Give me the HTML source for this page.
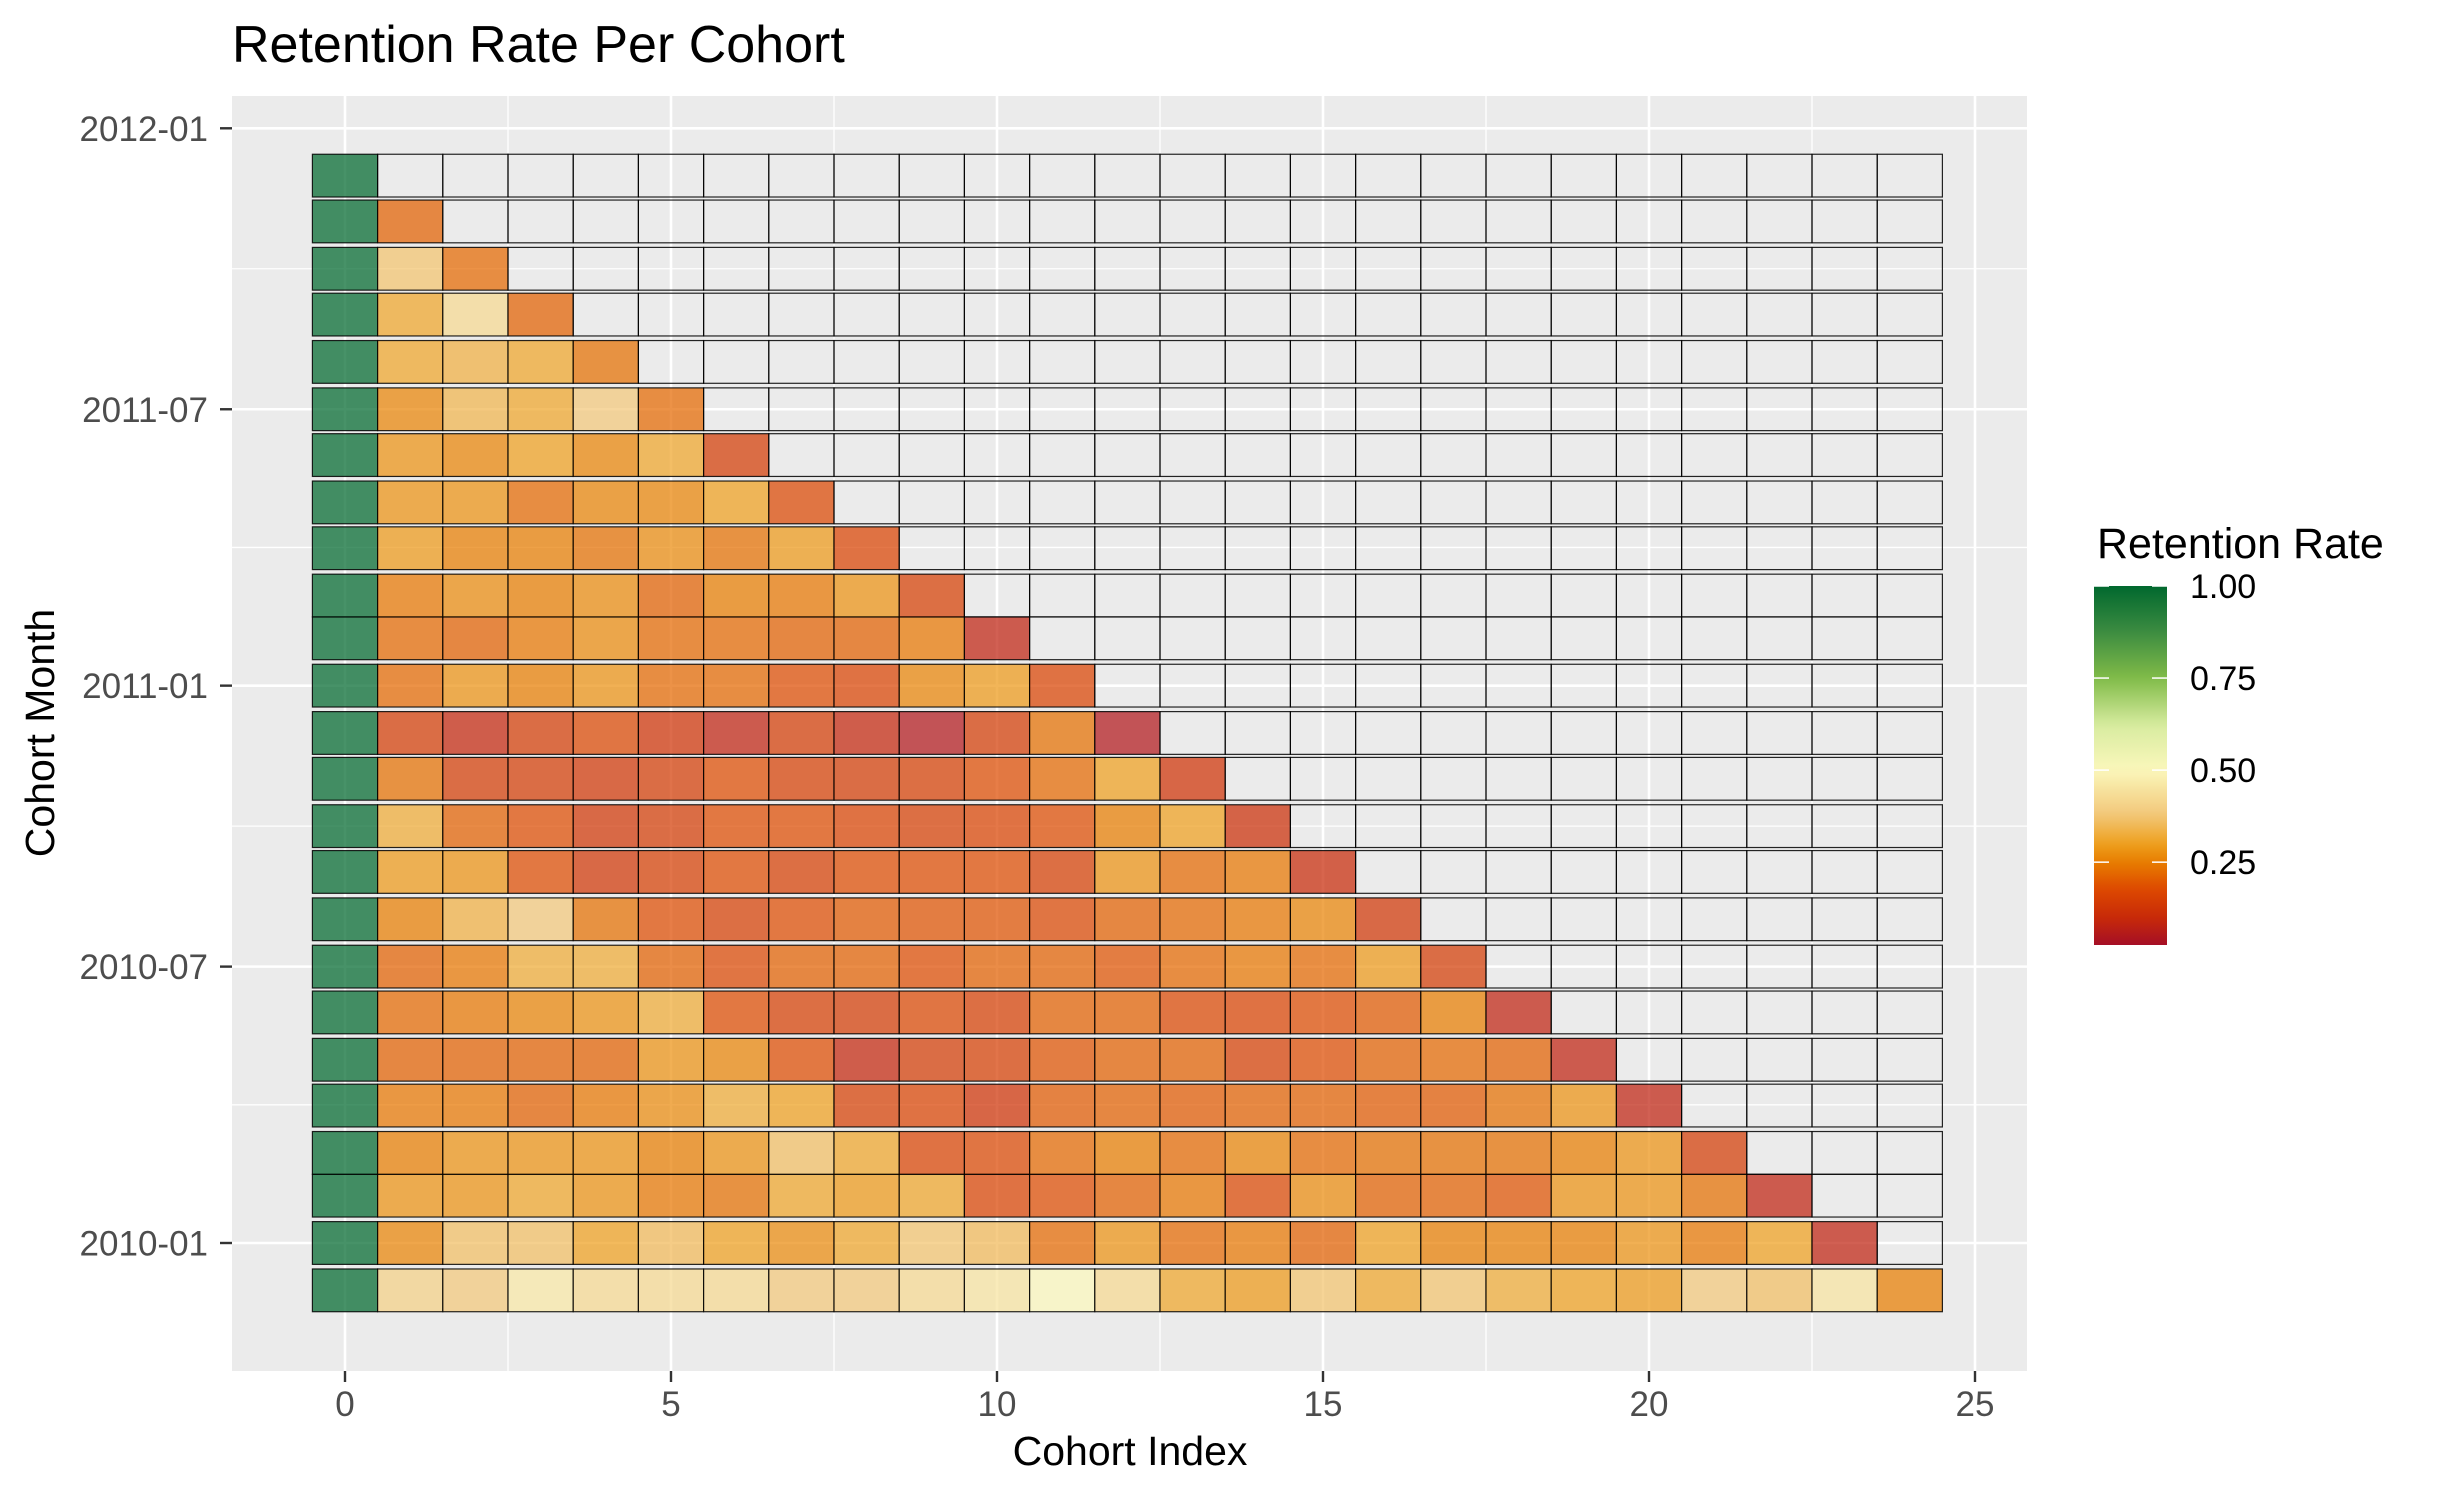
<!DOCTYPE html>
<html>
<head>
<meta charset="utf-8">
<style>
html,body{margin:0;padding:0;background:#fff;}
svg{display:block;font-family:"Liberation Sans",Arial,sans-serif;}
</style>
</head>
<body>
<svg id="chart" width="2446" height="1499" viewBox="0 0 2446 1499" xmlns="http://www.w3.org/2000/svg">
  <defs>
    <linearGradient id="legendGrad" x1="0" y1="1" x2="0" y2="0"></linearGradient>
  </defs>
  <text x="232" y="62" font-size="52" fill="#000">Retention Rate Per Cohort</text>
  <rect x="232" y="96" width="1795" height="1275" fill="#ebebeb"/>
  <g id="grid"></g>
  <g id="tiles"></g>
  <g id="xaxis"></g>
  <g id="yaxis"></g>
  <text x="1130" y="1465" font-size="41" text-anchor="middle" fill="#000">Cohort Index</text>
  <text transform="translate(54,733) rotate(-90)" font-size="41" text-anchor="middle" fill="#000">Cohort Month</text>
  <g id="legend">
    <text x="2097" y="558" font-size="43" fill="#000">Retention Rate</text>
    <rect x="2094" y="586" width="73" height="359" fill="url(#legendGrad)"/>
  </g>
</svg>
<script>
const cohortMonths = ["2009-12","2010-01","2010-02","2010-03","2010-04","2010-05","2010-06","2010-07","2010-08","2010-09","2010-10","2010-11","2010-12","2011-01","2011-02","2011-03","2011-04","2011-05","2011-06","2011-07","2011-08","2011-09","2011-10","2011-11","2011-12"];
const retention = [
 [1,0.40,0.38,0.46,0.42,0.42,0.42,0.38,0.38,0.42,0.45,0.50,0.42,0.31,0.29,0.37,0.31,0.37,0.32,0.30,0.29,0.38,0.36,0.45,0.25],
 [1,0.26,0.36,0.36,0.30,0.35,0.30,0.27,0.31,0.37,0.35,0.22,0.28,0.22,0.24,0.21,0.30,0.25,0.25,0.25,0.28,0.24,0.30,0.08],
 [1,0.28,0.28,0.31,0.28,0.24,0.23,0.31,0.29,0.31,0.16,0.18,0.21,0.24,0.17,0.27,0.21,0.21,0.19,0.28,0.28,0.23,0.08],
 [1,0.25,0.28,0.28,0.28,0.25,0.28,0.36,0.31,0.16,0.17,0.22,0.25,0.22,0.26,0.22,0.23,0.23,0.23,0.25,0.28,0.14],
 [1,0.24,0.24,0.21,0.24,0.27,0.32,0.30,0.15,0.16,0.12,0.20,0.21,0.20,0.21,0.21,0.20,0.20,0.23,0.28,0.08],
 [1,0.21,0.21,0.21,0.21,0.28,0.26,0.18,0.09,0.14,0.15,0.19,0.21,0.21,0.15,0.18,0.21,0.22,0.21,0.08],
 [1,0.22,0.24,0.26,0.28,0.32,0.18,0.15,0.14,0.17,0.15,0.21,0.21,0.17,0.16,0.18,0.20,0.25,0.08],
 [1,0.21,0.24,0.32,0.32,0.21,0.17,0.21,0.21,0.18,0.21,0.21,0.19,0.22,0.24,0.22,0.29,0.14],
 [1,0.25,0.33,0.38,0.23,0.18,0.15,0.18,0.20,0.19,0.19,0.17,0.21,0.22,0.24,0.26,0.13],
 [1,0.29,0.28,0.18,0.13,0.15,0.18,0.15,0.18,0.18,0.18,0.15,0.28,0.22,0.24,0.10],
 [1,0.32,0.21,0.18,0.13,0.14,0.18,0.18,0.16,0.15,0.16,0.18,0.25,0.30,0.11],
 [1,0.23,0.14,0.14,0.13,0.14,0.18,0.15,0.14,0.15,0.18,0.22,0.30,0.12],
 [1,0.14,0.09,0.14,0.17,0.12,0.08,0.14,0.09,0.05,0.14,0.23,0.05],
 [1,0.22,0.28,0.25,0.28,0.22,0.22,0.18,0.16,0.26,0.29,0.16],
 [1,0.22,0.21,0.24,0.27,0.22,0.22,0.21,0.21,0.24,0.08],
 [1,0.24,0.27,0.25,0.27,0.21,0.25,0.24,0.28,0.15],
 [1,0.29,0.25,0.25,0.23,0.27,0.23,0.29,0.16],
 [1,0.28,0.28,0.22,0.26,0.26,0.30,0.17],
 [1,0.28,0.26,0.30,0.26,0.31,0.14],
 [1,0.26,0.34,0.31,0.38,0.22],
 [1,0.31,0.33,0.31,0.23],
 [1,0.31,0.42,0.21],
 [1,0.37,0.22],
 [1,0.21],
 [1]
];
const xTicks = [0,5,10,15,20,25];
const yTicks = ["2010-01","2010-07","2011-01","2011-07","2012-01"];
const legendTicks = [0.25,0.50,0.75,1.00];
const nCols = 25;

const NS = "http://www.w3.org/2000/svg";
function mk(tag, attrs, parent){const e=document.createElementNS(NS,tag);for(const k in attrs)e.setAttribute(k,attrs[k]);parent.appendChild(e);return e;}
function days(s){const p=s.split("-").map(Number);return Date.UTC(p[0],p[1]-1,p[2]||1)/86400000;}
const d0 = days("2010-01-01");
const xScale = v => 345 + v*65.2;
const yScale = d => 1243 - (d - d0)*1.527;
const tileH = 28*1.527;

const stops = [[0.025,[165,15,38]],[0.1,[200,42,8]],[0.18,[222,75,0]],[0.25,[232,125,0]],[0.3,[238,160,30]],[0.38,[242,200,122]],[0.5,[251,247,187]],[0.62,[216,236,160]],[0.75,[128,187,72]],[0.88,[58,138,64]],[1,[0,104,46]]];
function color(v){
  if(v<=stops[0][0]) return stops[0][1];
  for(let i=1;i<stops.length;i++){
    if(v<=stops[i][0]){const a=stops[i-1],b=stops[i];const t=(v-a[0])/(b[0]-a[0]);return a[1].map((c,j)=>Math.round(c+(b[1][j]-c)*t));}
  }
  return stops[stops.length-1][1];
}
const rgb = c => "rgb("+c.join(",")+")";

const grad = document.getElementById("legendGrad");
const vmin = 0.025;
for(let i=0;i<=40;i++){
  const v = vmin + (1-vmin)*i/40;
  mk("stop",{offset:(i/40).toFixed(3),"stop-color":rgb(color(v))},grad);
}

const grid = document.getElementById("grid");
for(let i=0;i<xTicks.length;i++){
  const x=xScale(xTicks[i]);
  const l=mk("line",{x1:x,x2:x,y1:96,y2:1371,stroke:"#fff","stroke-width":2.6},grid);
  
  
  if(i<xTicks.length-1){
    const xm=xScale((xTicks[i]+xTicks[i+1])/2);
    const m=mk("line",{x1:xm,x2:xm,y1:96,y2:1371,stroke:"#fff","stroke-width":1.3},grid);
    
    
  }
}
for(let i=0;i<yTicks.length;i++){
  const y=yScale(days(yTicks[i]));
  const l=mk("line",{x1:232,x2:2027,y1:y,y2:y,stroke:"#fff","stroke-width":2.6},grid);
  
  
  if(i<yTicks.length-1){
    const ym=(y+yScale(days(yTicks[i+1])))/2;
    const m=mk("line",{x1:232,x2:2027,y1:ym,y2:ym,stroke:"#fff","stroke-width":1.3},grid);
    
    
  }
}

const tiles = document.getElementById("tiles");
for(let r=0;r<cohortMonths.length;r++){
  const yc=yScale(days(cohortMonths[r]+"-01"));
  const row=retention[r];
  for(let c=0;c<nCols;c++){
    const x=xScale(c-0.5);
    const attrs={x:x,y:yc-tileH/2,width:65.2,height:tileH,stroke:"#000","stroke-opacity":0.85,"stroke-width":1.2};
    if(c<row.length){attrs.fill=rgb(color(row[c]));attrs["fill-opacity"]=0.72;}
    else{attrs.fill="none";}
    const t=mk("rect",attrs,tiles);
    
    
  }
}

const xa=document.getElementById("xaxis");
for(const v of xTicks){
  const x=xScale(v);
  const tk=mk("line",{x1:x,x2:x,y1:1371,y2:1382,stroke:"#333","stroke-width":2.4},xa);
  
  
  const tx=mk("text",{x:x,y:1416,"font-size":35,"text-anchor":"middle",fill:"#4d4d4d"},xa);
  tx.textContent=String(v);
  
  
}
const ya=document.getElementById("yaxis");
for(const m of yTicks){
  const y=yScale(days(m));
  const tk=mk("line",{x1:220,x2:232,y1:y,y2:y,stroke:"#333","stroke-width":2.4},ya);
  
  
  const tx=mk("text",{x:208,y:y+12.5,"font-size":35,"text-anchor":"end",fill:"#4d4d4d"},ya);
  tx.textContent=m;
  
  
}
const lg=document.getElementById("legend");
const ly = v => 945 - (v-vmin)/(1-vmin)*359;
for(const v of legendTicks){
  const y=ly(v);
  const a=mk("line",{x1:2094,x2:2109,y1:y,y2:y,stroke:"#fff","stroke-width":1.5},lg);
  
  
  const b=mk("line",{x1:2152,x2:2167,y1:y,y2:y,stroke:"#fff","stroke-width":1.5},lg);
  
  
  const t=mk("text",{x:2190,y:y+12,"font-size":34,fill:"#000"},lg);
  t.textContent=v.toFixed(2);
  
  
}
</script>
</body>
</html>
